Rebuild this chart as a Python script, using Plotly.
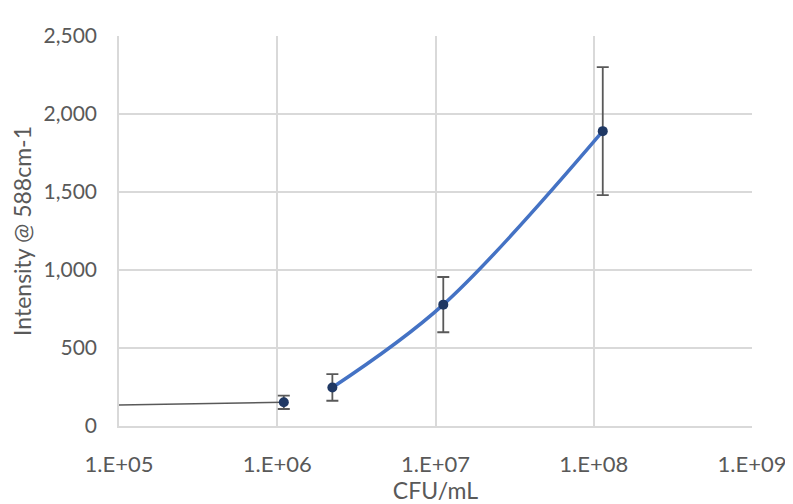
import plotly.graph_objects as go

# Data
cfu = [1.1e6, 2.23e6, 1.12e7, 1.14e8]
intensity = [152, 247, 778, 1890]
err = [43, 85, 177, 410]

# grey segment from left axis edge to first point
base_x = [1e5, 1.1e6]
base_y = [135, 152]

# blue smoothed curve through upper three points
fit_x = cfu[1:]
fit_y = intensity[1:]

x_tickvals = [1e5, 1e6, 1e7, 1e8, 1e9]
x_ticktext = ["1.E+05", "1.E+06", "1.E+07", "1.E+08", "1.E+09"]
y_tickvals = [0, 500, 1000, 1500, 2000, 2500]
y_ticktext = ["0", "500", "1,000", "1,500", "2,000", "2,500"]

FONT = "Lato, Calibri, sans-serif"
TXT = "#595959"

fig = go.Figure()
fig.add_trace(go.Scatter(x=base_x, y=base_y, mode="lines",
                         line=dict(color="#595959", width=1.5),
                         showlegend=False, hoverinfo="skip"))
fig.add_trace(go.Scatter(x=fit_x, y=fit_y, mode="lines",
                         line=dict(color="#4472C4", width=3.5, shape="spline"),
                         showlegend=False, hoverinfo="skip"))
fig.add_trace(go.Scatter(x=cfu, y=intensity, mode="markers",
                         marker=dict(color="#1F3864", size=10),
                         error_y=dict(type="data", array=err, visible=True,
                                      color="#595959", thickness=1.8, width=6),
                         showlegend=False))

fig.update_layout(
    width=785, height=496,
    margin=dict(l=111, r=41, t=28, b=78),
    paper_bgcolor="white", plot_bgcolor="white",
    font=dict(family=FONT, color=TXT, size=21),
    xaxis=dict(type="log", range=[5, 9], tickvals=x_tickvals, ticktext=x_ticktext,
               showgrid=True, gridcolor="#D9D9D9", gridwidth=1.5,
               showline=True, linecolor="#D9D9D9", linewidth=1.5,
               zeroline=False, ticks="", ticklabelstandoff=18, automargin=False,
               tickfont=dict(size=22, color=TXT, family=FONT),
               title=dict(text="CFU/mL", font=dict(size=23, color=TXT, family=FONT), standoff=12)),
    yaxis=dict(range=[0, 2500], tickvals=y_tickvals, ticktext=y_ticktext,
               showgrid=True, gridcolor="#D9D9D9", gridwidth=1.5,
               showline=True, linecolor="#D9D9D9", linewidth=1.5,
               zeroline=False, ticks="", ticklabelstandoff=16, automargin=False,
               tickfont=dict(size=21, color=TXT, family=FONT),
               title=dict(text="Intensity @ 588cm-1", font=dict(size=23, color=TXT, family=FONT), standoff=17)),
)

fig.write_html("out.html")
